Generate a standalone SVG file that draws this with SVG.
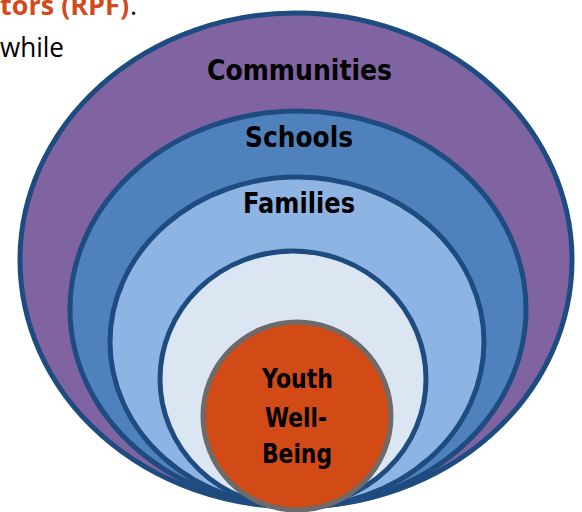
<svg xmlns="http://www.w3.org/2000/svg" width="582" height="512" viewBox="0 0 582 512">
<style>
.ring{stroke:#1F4C80;stroke-width:5}
.lbl{font-family:"DejaVu Sans","Liberation Sans",sans-serif;font-weight:bold;fill:#000;text-anchor:middle}
.body{font-family:"Open Sans","Noto Sans",sans-serif}
</style>
<rect width="582" height="512" fill="#fff"/>
<g id="intro-text">
<text class="body" x="0" y="15" font-size="27" fill="#000"><tspan font-weight="bold" fill="#D4491A">tors (RPF)</tspan><tspan dx="1">.</tspan></text>
<text class="body" x="0" y="57" font-size="27" fill="#000" textLength="64" lengthAdjust="spacingAndGlyphs">while</text>
</g>
<g id="communities">
<ellipse class="ring" cx="296" cy="260" rx="276" ry="247" fill="#8064A2"/>
<text class="lbl" x="299.5" y="80" font-size="29" textLength="185" lengthAdjust="spacingAndGlyphs">Communities</text>
</g>
<g id="schools">
<ellipse class="ring" cx="298" cy="309" rx="228" ry="198" fill="#4F81BD"/>
<text class="lbl" x="299" y="147" font-size="28" textLength="108" lengthAdjust="spacingAndGlyphs">Schools</text>
</g>
<g id="families">
<ellipse class="ring" cx="297" cy="342" rx="187" ry="165" fill="#8EB4E3"/>
<text class="lbl" x="299" y="213" font-size="28" textLength="112" lengthAdjust="spacingAndGlyphs">Families</text>
</g>
<g id="inner">
<ellipse class="ring" cx="293" cy="379" rx="133" ry="128" fill="#DCE6F2"/>
</g>
<g id="youth">
<circle cx="297" cy="416" r="94" fill="#D24A16" stroke="#6E6A69" stroke-width="5"/>
<text class="lbl" x="297.5" y="388" font-size="27" textLength="71" lengthAdjust="spacingAndGlyphs">Youth</text>
<text class="lbl" x="296" y="427" font-size="27" textLength="62" lengthAdjust="spacingAndGlyphs">Well-</text>
<text class="lbl" x="297" y="463" font-size="27" textLength="70" lengthAdjust="spacingAndGlyphs">Being</text>
</g>
<g id="connectors"></g>
</svg>
